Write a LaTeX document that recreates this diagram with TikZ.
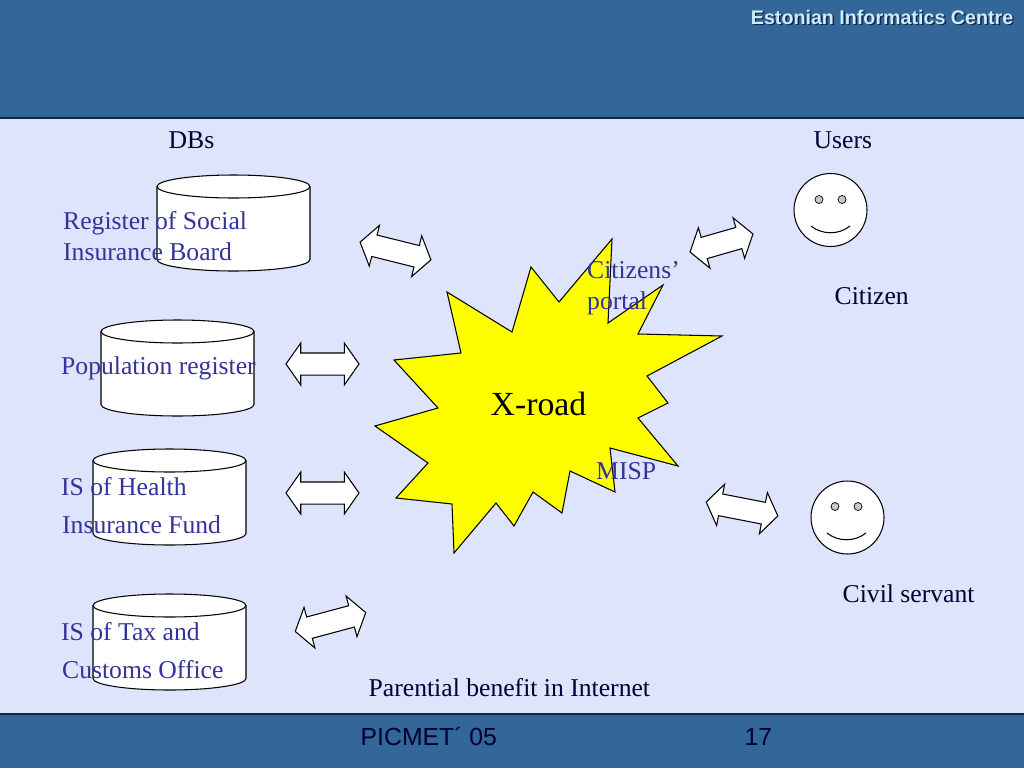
\documentclass[tikz,border=0pt]{standalone}
\usepackage{fontspec}
\setmainfont{Liberation Serif}
\setsansfont{Liberation Sans}
\usetikzlibrary{shapes.arrows}
\definecolor{slidebg}{HTML}{DDE4FB}
\definecolor{bandblue}{HTML}{336699}
\definecolor{labelblue}{HTML}{333399}
\definecolor{footnavy}{HTML}{000033}
\definecolor{titlepale}{HTML}{CCECFF}
\definecolor{titleshade}{HTML}{12263F}
\definecolor{starfill}{HTML}{FFFF00}
\tikzset{db drum/.pic={
    \draw[fill=white,line width=0.6pt] (-76.5,-36.5) -- (-76.5,36.5) arc[x radius=1.53cm,y radius=0.23cm,start angle=180,end angle=360] -- (76.5,-36.5) arc[x radius=1.53cm,y radius=0.23cm,start angle=0,end angle=180] -- cycle;
    \draw[line width=0.6pt] (-76.5,-36.5) arc[x radius=1.53cm,y radius=0.23cm,start angle=180,end angle=360];
}}
\begin{document}
\begin{tikzpicture}[x=0.02cm,y=-0.02cm,thick,
    swap node/.style={double arrow,draw=black,fill=white,line width=0.6pt,inner sep=0pt,text height=0.21cm,text depth=0.21cm,minimum height=1.46cm,minimum width=0.82cm,double arrow head extend=0.2cm,double arrow tip angle=110},
    face node/.style={circle,draw=black,fill=white,line width=0.6pt,inner sep=0pt,minimum size=1.46cm},
    eye node/.style={circle,draw=black,fill=black!22,line width=0.4pt,inner sep=0pt,minimum size=0.16cm},
    db label/.style={anchor=base west,inner sep=0pt,font=\fontsize{14.6pt}{16pt}\selectfont,text=labelblue},
    plain label/.style={anchor=base west,inner sep=0pt,font=\fontsize{14.6pt}{16pt}\selectfont,text=footnavy},
    foot label/.style={anchor=base west,inner sep=0pt,font=\sffamily\fontsize{14.1pt}{16pt}\selectfont,text=footnavy}]
    \useasboundingbox (0,0) rectangle (1024,768);
    % slide
    \fill[slidebg] (0,0) rectangle (1024,768);
    \fill[bandblue] (0,0) rectangle (1024,118);
    \fill[bandblue] (0,714) rectangle (1024,768);
    \draw[line width=0.6pt,titleshade] (0,118) -- (1024,118);
    \draw[line width=0.6pt,titleshade] (0,714) -- (1024,714);
    \node[anchor=base east,inner sep=0pt,text=titleshade,font=\sffamily\bfseries\fontsize{11.2pt}{12pt}\selectfont] at (1015.5,25.5) (titleshadow) {Estonian Informatics Centre};
    \node[anchor=base east,inner sep=0pt,text=titlepale,font=\sffamily\bfseries\fontsize{11.2pt}{12pt}\selectfont] at (1014,24) (title) {Estonian Informatics Centre};
    \node[foot label] at (360,745) (conf) {PICMET´ 05};
    \node[foot label] at (744,745) (pageno) {17};

    % databases
    \pic at (233.5,223) {db drum};
    \pic at (177.5,368) {db drum};
    \pic at (169.5,497) {db drum};
    \pic at (169.5,642) {db drum};

    % the star
    \draw[fill=starfill,line width=0.6pt] (612,239) -- (608,323) -- (663,285) -- (638,334) -- (722,336) -- (647,376) -- (668,403) -- (638,418) -- (678,466) -- (610,448) -- (615,492) -- (570,471) -- (562,513) -- (533,492) -- (514,526) -- (496,503) -- (454,553) -- (452,504) -- (396,498) -- (428,463) -- (375,426) -- (438,408) -- (394,360) -- (461,353) -- (447,292) -- (512,332) -- (531,267) -- (559,302) -- cycle;
    \node[anchor=base west,inner sep=0pt,font=\fontsize{19.2pt}{20pt}\selectfont] at (490,415) (xroad) {X-road};

    % arrows
    \node[swap node,rotate=-14] at (395.5,251) (arrowa) {};
    \node[swap node] at (322.5,364) (arrowb) {};
    \node[swap node] at (322.5,493) (arrowc) {};
    \node[swap node,rotate=15] at (330.5,622) (arrowd) {};
    \node[swap node,rotate=16,minimum height=1.31cm] at (721.5,243) (arrowe) {};
    \node[swap node,rotate=-11] at (742,509) (arrowf) {};

    % users
    \node[face node] at (830.5,210) (citizen) {};
    \node[eye node] at (819,199.5) (citizenl) {};
    \node[eye node] at (842,199.5) (citizenr) {};
    \draw[line width=0.6pt] (811,226) .. controls (822,235) and (839,235) .. (850,226);
    \node[face node] at (847.5,517.5) (servant) {};
    \node[eye node] at (835,506.5) (servantl) {};
    \node[eye node] at (858,506.5) (servantr) {};
    \draw[line width=0.6pt] (827,533) .. controls (838,542) and (855,542) .. (866,533);

    % labels
    \node[plain label] at (168,148) (dbs) {DBs};
    \node[plain label] at (813,148) (users) {Users};
    \node[plain label] at (834,304) (citizent) {Citizen};
    \node[plain label] at (842,602) (servantt) {Civil servant};
    \node[plain label] at (368,696.5) (benefit) {Parential benefit in Internet};
    \node[db label] at (62.5,229) (sociala) {Register of Social};
    \node[db label] at (62.5,260) (socialb) {Insurance Board};
    \node[db label] at (60.5,374) (populationt) {Population register};
    \node[db label] at (60.5,495) (healtha) {IS of Health};
    \node[db label] at (61.5,533) (healthb) {Insurance Fund};
    \node[db label] at (60.5,640) (taxa) {IS of Tax and};
    \node[db label] at (61.5,678) (taxb) {Customs Office};
    \node[db label] at (586.5,278) (portala) {Citizens’};
    \node[db label] at (586.5,309) (portalb) {portal};
    \node[db label] at (595.5,479) (misp) {MISP};
\end{tikzpicture}
\end{document}
